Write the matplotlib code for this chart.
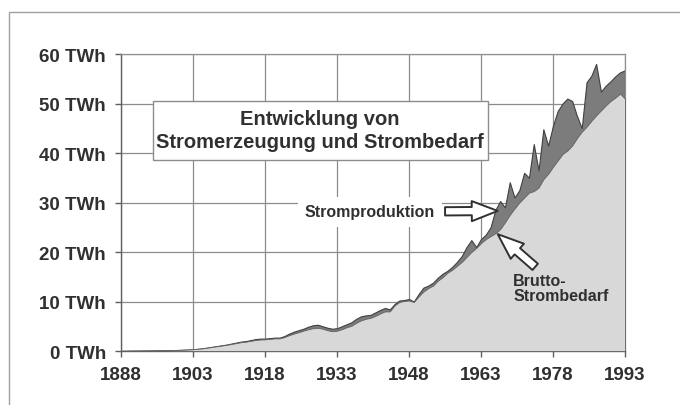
import numpy as np
import matplotlib
matplotlib.use('Agg')
import matplotlib.pyplot as plt
from matplotlib.patches import Rectangle

plt.rcParams['font.family'] = ['Liberation Sans', 'DejaVu Sans']

# years 1888 .. 1993
years = np.arange(1888, 1994)

# Stromproduktion (TWh)
production = [
    0.02, 0.03, 0.05, 0.06, 0.07, 0.08, 0.09, 0.10, 0.12, 0.14, 0.16, 0.18,
    0.22, 0.26, 0.30, 0.35, 0.45, 0.55, 0.70, 0.85, 1.00, 1.15,
    1.30, 1.50, 1.70, 1.90, 2.00, 2.20, 2.40, 2.50, 2.50, 2.60,
    2.70, 2.70, 3.00, 3.50, 3.90, 4.20, 4.50, 4.90, 5.20, 5.30,
    5.00, 4.70, 4.50, 4.60, 5.00, 5.40, 5.80, 6.50, 7.00, 7.20,
    7.30, 7.80, 8.30, 8.70, 8.40, 9.50, 10.20, 10.30, 10.50, 10.00,
    11.50, 12.80, 13.20, 13.80, 14.80, 15.60, 16.20, 17.00, 18.00, 19.20,
    21.00, 22.40, 21.00, 22.60, 23.50, 25.00, 28.50, 30.30, 29.00, 34.10,
    31.00, 32.50, 36.00, 35.00, 41.80, 36.50, 44.80, 41.50, 45.50, 48.50,
    50.00, 51.00, 50.50, 47.50, 45.00, 54.30, 55.60, 58.00, 52.40, 53.60,
    54.50, 55.50, 56.30, 56.70,
]

# Brutto-Strombedarf (TWh)
demand = [
    0.02, 0.03, 0.05, 0.06, 0.07, 0.08, 0.09, 0.10, 0.12, 0.14, 0.16, 0.18,
    0.22, 0.26, 0.30, 0.35, 0.44, 0.54, 0.68, 0.82, 0.96, 1.10,
    1.25, 1.42, 1.60, 1.78, 1.88, 2.05, 2.22, 2.32, 2.35, 2.45,
    2.55, 2.55, 2.80, 3.20, 3.50, 3.80, 4.10, 4.40, 4.60, 4.70,
    4.50, 4.20, 4.00, 4.10, 4.40, 4.80, 5.10, 5.70, 6.20, 6.50,
    6.70, 7.10, 7.60, 8.00, 8.00, 9.20, 9.90, 10.10, 10.20, 9.90,
    11.00, 12.00, 12.70, 13.20, 14.20, 14.90, 15.80, 16.40, 17.20, 18.00,
    19.00, 20.00, 20.80, 21.80, 22.60, 23.20, 23.80, 24.60, 26.00, 27.50,
    28.80, 30.00, 31.00, 32.00, 32.30, 33.00, 34.70, 35.80, 37.20, 38.50,
    39.80, 40.50, 41.50, 43.00, 44.30, 45.30, 46.50, 47.60, 48.60, 49.60,
    50.50, 51.20, 52.00, 51.00,
]

x_ticks = np.arange(1888, 1994, 15)
y_ticks = np.arange(0, 61, 10)

tick_fontsize = 13.5
label_fontsize = 11.5
title_fontsize = 14.5
grid_color = '#8c8c8c'
text_color = '#303030'

fig = plt.figure(figsize=(6.8, 4.06), dpi=100)
ax = fig.add_axes([0.178, 0.133, 0.741, 0.7315])

# outer frame of the original chart
frame = Rectangle((0.013, -0.05), 1.5, 1.018, transform=fig.transFigure,
                  fill=False, edgecolor='#a0a0a0', lw=1.0, clip_on=False)
fig.add_artist(frame)

ax.fill_between(years, 0, production, facecolor='#7c7c7c', edgecolor='#404040',
                lw=0.8, zorder=2)
ax.fill_between(years, 0, demand, facecolor='#d8d8d8', edgecolor='#606060',
                lw=0.6, zorder=3)

ax.set_xlim(1888, 1993)
ax.set_ylim(0, 60)
ax.set_xticks(x_ticks)
ax.set_yticks(y_ticks)
ax.set_xticklabels([str(x) for x in x_ticks], fontsize=tick_fontsize,
                   fontweight='bold', color=text_color)
ax.set_yticklabels(['%d TWh' % y for y in y_ticks], fontsize=tick_fontsize,
                   fontweight='bold', color=text_color)
ax.tick_params(axis='both', direction='out', length=4, width=1, color='#606060', pad=7)
ax.grid(True, color=grid_color, lw=0.9, zorder=0)
ax.set_axisbelow(True)
for side in ['top', 'right']:
    ax.spines[side].set_color('#909090')
    ax.spines[side].set_linewidth(0.9)
for side in ['left', 'bottom']:
    ax.spines[side].set_color('#606060')
    ax.spines[side].set_linewidth(1.0)

# title box
ax.add_patch(Rectangle((0.0635, 0.643), 0.6645, 0.199, transform=ax.transAxes,
                       facecolor='white', edgecolor='#8c8c8c', lw=1.0, zorder=4))
ax.text(0.395, 0.744, 'Entwicklung von\nStromerzeugung und Strombedarf',
        transform=ax.transAxes, ha='center', va='center', fontsize=title_fontsize,
        fontweight='bold', color=text_color, linespacing=1.25, zorder=5)

# annotations
arrow_style = 'simple,tail_width=0.35,head_width=0.85,head_length=1.1'
ax.annotate('Stromproduktion', xy=(1966.5, 28.3), xytext=(1926.3, 28.1),
            fontsize=label_fontsize, fontweight='bold', color=text_color,
            ha='left', va='center',
            bbox=dict(boxstyle='square,pad=0.45', fc='white', ec='none'),
            arrowprops=dict(arrowstyle=arrow_style, fc='white', ec='#303030',
                            lw=1.4, shrinkA=2, shrinkB=0, mutation_scale=17),
            zorder=6)
ax.annotate('', xy=(1966.5, 23.6), xytext=(1974.3, 17.0),
            arrowprops=dict(arrowstyle=arrow_style, fc='white', ec='#303030',
                            lw=1.4, shrinkA=0, shrinkB=0, mutation_scale=17),
            zorder=6)
ax.text(1969.7, 12.7, 'Brutto-\nStrombedarf', fontsize=label_fontsize,
        fontweight='bold', color=text_color, ha='left', va='center',
        linespacing=1.05, zorder=6)

plt.savefig('out.png', dpi=100)
